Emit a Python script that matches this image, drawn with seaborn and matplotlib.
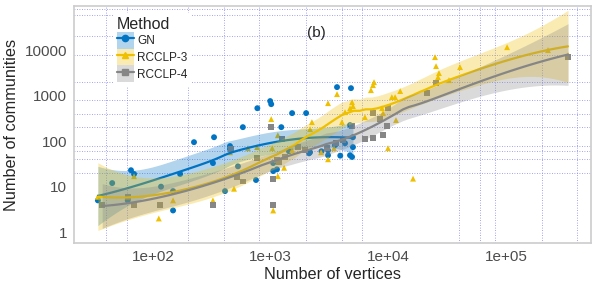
import numpy as np
import pandas as pd
import matplotlib
matplotlib.use("Agg")
import matplotlib.pyplot as plt
import seaborn as sns
from matplotlib.patches import Patch
from matplotlib.lines import Line2D

# --- data (vertices, communities) ---
methods = ["GN", "RCCLP-3", "RCCLP-4"]

gn_vertices = [34, 45, 65, 69, 61, 117, 170, 148, 148, 223, 323, 409, 451, 451,
               527, 750, 1050, 1130, 1130, 1050, 1430, 330, 580, 770, 990, 1010,
               1230, 1520, 2000, 2160, 3070, 3070, 3660, 4810, 4720, 5000, 5000,
               4720, 4910, 3520, 4280, 2120, 2700, 3900]
gn_communities = [5, 12, 23, 19, 5, 10, 19, 8, 3, 95, 33, 8, 78, 67,
                  28, 14, 22, 24, 36, 33, 60, 122, 203, 530, 760, 650,
                  203, 413, 413, 57, 63, 49, 1540, 1460, 225, 122, 74,
                  49, 45, 82, 90, 54, 60, 48]

rcclp3_vertices = [34, 61, 69, 112, 148, 323, 488, 451, 766, 641, 1050, 1150,
                   1300, 1010, 1030, 1150, 2160, 2240, 2680, 3070, 3070, 3450,
                   3660, 4030, 4280, 4720, 4910, 5000, 6320, 7110, 7400, 7550,
                   8830, 9000, 9930, 10700, 11400, 11600, 12600, 16200, 24900,
                   25400, 26900, 26400, 32700, 40600, 102000, 227000, 336000, 1520]
rcclp3_communities = [6, 6, 17, 2, 5, 5, 9, 57, 74, 70, 3, 17,
                      26, 305, 70, 135, 184, 262, 57, 684, 40, 70,
                      1080, 262, 434, 531, 720, 588, 337, 1320, 1700, 1980,
                      531, 413, 70, 927, 927, 290, 1260, 15, 7020,
                      4450, 3130, 2550, 2190, 4230, 11600, 10000, 7770, 63]

rcclp4_vertices = [37, 61, 69, 115, 323, 460, 582, 518, 766, 1050, 1050, 1180,
                   1320, 1010, 1250, 1710, 3010, 3590, 4110, 4910, 6320, 7400,
                   7400, 8490, 9000, 9730, 9930, 21300, 25400, 336000, 1130, 1950]
rcclp4_communities = [4, 6, 4, 4, 4, 67, 13, 16, 42, 4, 15, 35,
                      45, 203, 111, 74, 70, 90, 105, 214, 111, 413,
                      116, 305, 135, 214, 531, 1140, 1880, 7020, 38, 63]

colors = {"GN": "#0073C2", "RCCLP-3": "#EFC000", "RCCLP-4": "#868686"}
markers = {"GN": "o", "RCCLP-3": "^", "RCCLP-4": "s"}
spans = {"GN": 1.0, "RCCLP-3": 0.75, "RCCLP-4": 0.85}

x_ticks = [100, 1000, 10000, 100000]
x_tick_labels = ["1e+02", "1e+03", "1e+04", "1e+05"]
y_ticks = [1, 10, 100, 1000, 10000]
y_tick_labels = ["1", "10", "100", "1000", "10000"]
x_grid = [40, 60, 200, 400, 800, 1000, 2000, 4000, 6000, 10000, 40000,
          60000, 80000, 100000, 200000, 400000]
y_grid = [1, 10, 20, 40, 60, 80, 100, 200, 400, 800, 1000, 2000, 8000,
          10000, 20000, 60000, 80000]


def loess_fit(x, y, grid, span=0.75):
    # local quadratic fit with tricube weights, like geom_smooth(method="loess")
    n = len(x)
    q = min(n, int(np.floor(span * n)))

    def hat_row(x0):
        d = np.abs(x - x0)
        h = np.sort(d)[q - 1]
        if span > 1:
            h = h * span
        w = np.clip(1 - (d / (h * 1.0001)) ** 3, 0, None) ** 3
        xc = np.column_stack([np.ones(n), x - x0, (x - x0) ** 2])
        wx = xc * w[:, None]
        return np.linalg.solve(xc.T @ wx, wx.T)[0]

    L = np.array([hat_row(v) for v in x])
    resid = y - L @ y
    r = np.eye(n) - L
    sigma = np.sqrt(resid @ resid / np.trace(r.T @ r))
    rows = np.array([hat_row(g) for g in grid])
    fit = rows @ y
    se = sigma * np.sqrt((rows ** 2).sum(axis=1))
    return fit, fit - 2.0 * se, fit + 2.0 * se


frames = [
    pd.DataFrame({"vertices": gn_vertices, "communities": gn_communities, "Method": "GN"}),
    pd.DataFrame({"vertices": rcclp3_vertices, "communities": rcclp3_communities, "Method": "RCCLP-3"}),
    pd.DataFrame({"vertices": rcclp4_vertices, "communities": rcclp4_communities, "Method": "RCCLP-4"}),
]
df = pd.concat(frames, ignore_index=True)
df["log_v"] = np.log10(df["vertices"])
df["log_c"] = np.log10(df["communities"])

sns.set_style("white")
plt.rcParams["font.family"] = ["Liberation Sans", "DejaVu Sans"]

fig = plt.figure(figsize=(5.98, 2.85), dpi=100)
ax = fig.add_axes([0.124, 0.147, 0.864, 0.832])

sns.scatterplot(data=df, x="log_v", y="log_c", hue="Method", style="Method",
                palette=colors, markers=markers, s=18, linewidth=0,
                legend=False, ax=ax, zorder=2)

for m in methods:
    sub = df[df["Method"] == m]
    xs = sub["log_v"].to_numpy()
    ys = sub["log_c"].to_numpy()
    grid = np.linspace(xs.min(), xs.max(), 80)
    fit, lo, hi = loess_fit(xs, ys, grid, spans[m])
    ax.fill_between(grid, lo, hi, color=colors[m], alpha=0.3, lw=0, zorder=3)
    sns.lineplot(x=grid, y=fit, color=colors[m], lw=1.6, ax=ax, zorder=3)

ax.set_xlim(1.33, 5.72)
ax.set_ylim(-0.24, 4.97)
ax.set_xticks(np.log10(x_ticks))
ax.set_xticklabels(x_tick_labels)
ax.set_yticks(np.log10(y_ticks))
ax.set_yticklabels(y_tick_labels)
ax.set_xticks(np.log10(x_grid), minor=True)
ax.set_yticks(np.log10(y_grid), minor=True)
ax.grid(False)
ax.grid(which="minor", color="#8484f2", linestyle=(0, (1, 2)), linewidth=0.6)
ax.set_axisbelow(True)
ax.tick_params(which="minor", length=0)
ax.tick_params(which="major", length=3, color="#b0b0b0", labelsize=11,
               labelcolor="#4d4d4d", pad=2)
for s in ax.spines.values():
    s.set_color("#cccccc")
    s.set_linewidth(1.2)

ax.set_xlabel("Number of vertices", fontsize=11.7, labelpad=2)
ax.set_ylabel("Number of communities", fontsize=11.7, labelpad=4)
ax.text(3.385, 4.37, "(b)", fontsize=11, ha="center", va="center")

handles = []
for m in methods:
    box = Patch(facecolor=colors[m], alpha=0.3, edgecolor="none")
    key = Line2D([], [], color=colors[m], marker=markers[m], markersize=4.5, lw=1.6)
    handles.append((box, key))
leg = ax.legend(handles, methods, title="Method", loc="upper left",
                bbox_to_anchor=(0.064, 0.995), fontsize=8.5, title_fontsize=11.5,
                handlelength=1.44, handleheight=1.83, labelspacing=0,
                handletextpad=0.3, borderpad=0.3, alignment="left",
                frameon=True, facecolor="white", edgecolor="none", framealpha=1)

fig.savefig("out.png", dpi=100)
